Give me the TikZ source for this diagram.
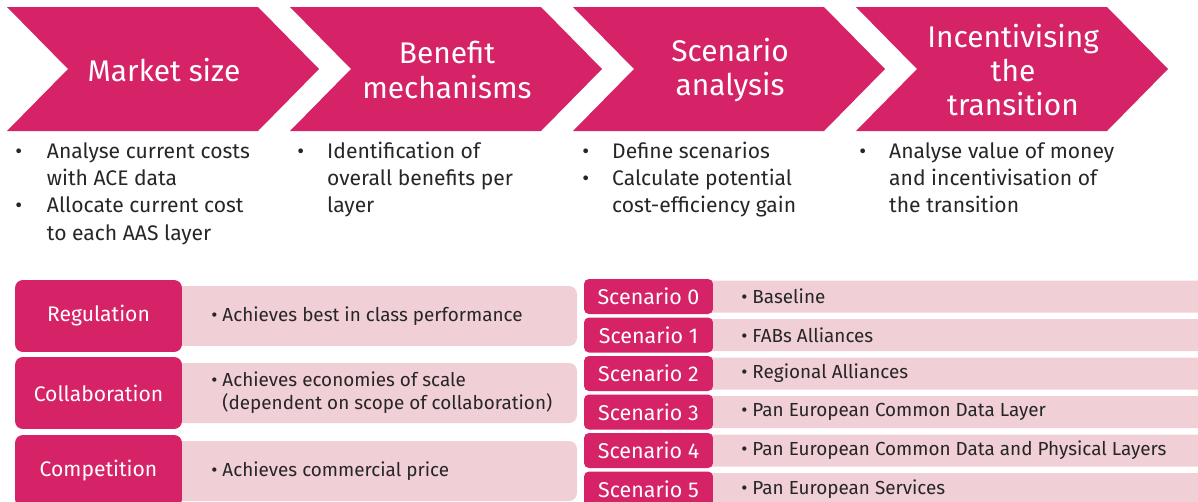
\documentclass[tikz,border=0pt]{standalone}
\usepackage{fontspec}
\setmainfont{Fira Sans}
\usepackage{xcolor}
\usepackage{tikz}
\usetikzlibrary{positioning}
\usetikzlibrary{calc}
\definecolor{aasred}{RGB}{214,35,103}
\definecolor{aaspink}{RGB}{240,207,214}
\tikzstyle{chevron}=[fill=aasred]
\tikzstyle{title}=[text=white,align=center,inner sep=0pt,font=\fontsize{17}{19.6}\selectfont]
\tikzstyle{steps}=[anchor=north west,inner sep=0pt,text=black!85,font=\fontsize{12}{15.5}\selectfont]
\tikzstyle{redbox}=[rectangle,fill=aasred,rounded corners=4.5pt,text=white,inner sep=0pt,minimum width=3.34cm,minimum height=1.44cm,font=\fontsize{12}{13}\selectfont]
\tikzstyle{pinkbox}=[rectangle,fill=aaspink,rounded corners=4.5pt,inner sep=0pt,minimum width=8.14cm,minimum height=1.2cm]
\tikzstyle{scenbox}=[rectangle,fill=aasred,rounded corners=2.8pt,text=white,inner sep=0pt,minimum width=2.58cm,minimum height=0.7cm,font=\fontsize{12.2}{13}\selectfont]
\tikzstyle{pinkbar}=[rectangle,fill=aaspink,rounded corners=1.5pt,inner sep=0pt,minimum width=10.2cm,minimum height=0.64cm]
\tikzstyle{bartext}=[anchor=west,inner sep=0pt,text=black!85,align=left,font=\fontsize{10.75}{13}\selectfont]

\begin{document}
\begin{tikzpicture}[x=0.02cm,y=-0.02cm]

 \useasboundingbox (0,0) rectangle (1198,501);

 %steps
  \foreach \dx/\name/\label in {7/ms/Market size, 290/bm/Benefit\\mechanisms, 573/sa/Scenario\\analysis, 856/it/Incentivising\\the\\transition}
  {
    \fill[chevron] (\dx,7) -- ++(251,0) -- ++(61,62) -- ++(-61,62) -- ++(-251,0) -- ++(61,-62) -- cycle;
    \node[title] (\name) at (\dx+157,70) {\label};
  }

 %bullets under the steps
  \node[steps] (msl) at (15,139) {\begin{tabular}{@{}p{18pt}@{}l@{}}
    \textbullet & Analyse current costs\\
                & with ACE data\\
    \textbullet & Allocate current cost\\
                & to each AAS layer
  \end{tabular}};
  \node[steps] (bml) at (297,139) {\begin{tabular}{@{}p{17pt}@{}l@{}}
    \textbullet & Identification of\\
                & overall benefits per\\
                & layer
  \end{tabular}};
  \node[steps] (sal) at (582,139) {\begin{tabular}{@{}p{17pt}@{}l@{}}
    \textbullet & Define scenarios\\
    \textbullet & Calculate potential\\
                & cost-efficiency gain
  \end{tabular}};
  \node[steps] (itl) at (859,139) {\begin{tabular}{@{}p{17pt}@{}l@{}}
    \textbullet & Analyse value of money\\
                & and incentivisation of\\
                & the transition
  \end{tabular}};

 %mechanisms
  \foreach \y/\name/\label in {316/reg/Regulation, 393/col/Collaboration, 471/com/Competition}
  {
    \node[pinkbox] (\name bar) at (373.5,\y) {};
    \node[redbox] (\name) at (98.5,\y) {\label};
  }

  \node[bartext] (regtxt) at (211,316) {\textbullet\ Achieves best in class performance};
  \node[bartext] (coltxt) at (211,393) {\textbullet\ Achieves economies of scale\\\phantom{\textbullet\ }(dependent on scope of collaboration)};
  \node[bartext] (comtxt) at (211,471) {\textbullet\ Achieves commercial price};

 %scenarios
  \foreach \y/\name/\label in {0/sc0/Baseline, 1/sc1/FABs Alliances, 2/sc2/Regional Alliances, 3/sc3/Pan European Common Data Layer, 4/sc4/Pan European Common Data and Physical Layers, 5/sc5/Pan European Services}
  {
    \node[pinkbar] (\name bar) at (955,296.5+38.5*\y) {};
    \node[scenbox] (\name) at (648.5,296.5+38.5*\y) {Scenario \y};
    \node[bartext] (\name txt) at (741,296.5+38.5*\y) {\textbullet\ \label};
  }

\end{tikzpicture}
\end{document}
